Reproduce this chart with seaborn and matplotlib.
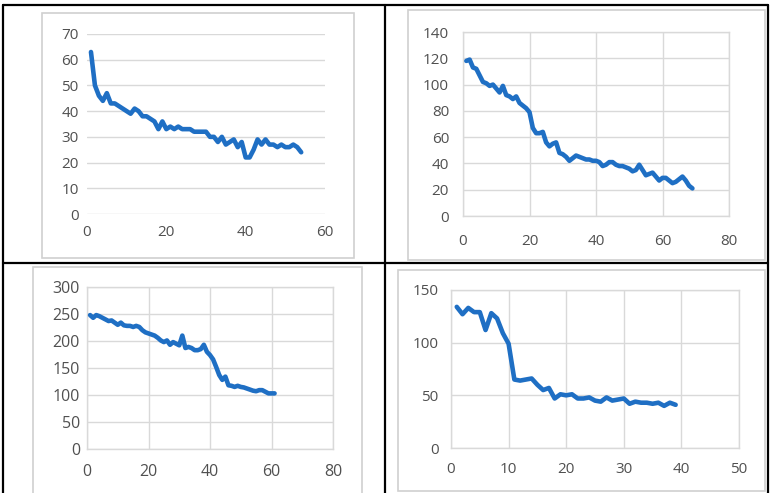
import matplotlib
matplotlib.use("Agg")
import matplotlib.pyplot as plt
import seaborn as sns
import pandas as pd
from matplotlib.patches import Rectangle
from matplotlib.lines import Line2D

sns.set_style("white")
plt.rcParams["font.family"] = ["Open Sans", "DejaVu Sans"]

# ---- data -------------------------------------------------------------
series_a = [63, 50, 46, 44, 47, 43, 43, 42, 41, 40, 39, 41, 40, 38, 38, 37, 36, 33,
            36, 33, 34, 33, 34, 33, 33, 33, 32, 32, 32, 32, 30, 30, 28, 30, 27, 28,
            29, 26, 28, 22, 22, 25, 29, 27, 29, 27, 27, 26, 27, 26, 26, 27, 26, 24]

series_b = [118, 119, 113, 112, 107, 102, 101, 99, 100, 97, 94, 99, 92, 91, 89, 91,
            86, 84, 82, 79, 67, 63, 63, 64, 56, 53, 55, 56, 48, 47, 45, 42, 44, 46,
            45, 44, 43, 43, 42, 42, 41, 38, 39, 41, 41, 39, 38, 38, 37, 36, 34, 35,
            39, 35, 31, 32, 33, 30, 27, 29, 29, 27, 25, 26, 28, 30, 27, 23, 21]

series_c = [248, 243, 248, 246, 243, 240, 237, 238, 234, 230, 234, 229, 228, 228,
            226, 228, 226, 220, 216, 214, 212, 210, 206, 201, 198, 201, 193, 198,
            195, 192, 210, 187, 189, 187, 183, 183, 185, 193, 180, 174, 166, 152,
            137, 128, 134, 118, 117, 115, 117, 115, 114, 112, 110, 108, 107, 109,
            109, 106, 103, 103, 103]

series_d = [134, 127, 133, 129, 129, 112, 128, 123, 109, 99, 65, 64, 65, 66, 60, 55,
            57, 47, 51, 50, 51, 47, 47, 48, 45, 44, 48, 45, 46, 47, 42, 44, 43, 43,
            42, 43, 40, 43, 41]

BLUE = "#1f6fc4"
GRID = "#d9d9d9"
TEXT = "#505050"
W, H = 770, 493

fig = plt.figure(figsize=(W / 100, H / 100), dpi=100)


def px_rect(x0, y0, x1, y1):
    return [x0 / W, 1 - y1 / H, (x1 - x0) / W, (y1 - y0) / H]


# light grey chart-area outlines
for x0, y0, x1, y1 in [(42, 13, 354, 258), (408, 10, 765, 260),
                       (33, 267, 362, 500), (398, 270, 765, 491)]:
    fig.patches.append(Rectangle((x0 / W, 1 - y1 / H), (x1 - x0) / W, (y1 - y0) / H,
                                 transform=fig.transFigure, fill=False,
                                 edgecolor="#d0d0d0", linewidth=1.2))

panels = [
    dict(values=series_a, rect=(87, 34, 325, 214), xmax=60, xstep=20, ymax=70, ystep=10,
         vgrid=False, box=False, size=11, ypad=6, xpad=8),
    dict(values=series_b, rect=(463, 32, 729, 216), xmax=80, xstep=20, ymax=140, ystep=20,
         vgrid=True, box=True, size=11, ypad=10, xpad=13),
    dict(values=series_c, rect=(87, 287, 333, 449), xmax=80, xstep=20, ymax=300, ystep=50,
         vgrid=True, box=True, size=11.5, ypad=5, xpad=11),
    dict(values=series_d, rect=(451, 290, 739, 448), xmax=50, xstep=10, ymax=150, ystep=50,
         vgrid=True, box=True, size=11, ypad=9, xpad=10),
]

for p in panels:
    ax = fig.add_axes(px_rect(*p["rect"]))
    df = pd.DataFrame({"x": range(1, len(p["values"]) + 1), "y": p["values"]})
    sns.lineplot(data=df, x="x", y="y", ax=ax, color=BLUE, linewidth=3.3,
                 solid_joinstyle="round", solid_capstyle="round", zorder=3)
    ax.set_xlim(0, p["xmax"])
    ax.set_ylim(0, p["ymax"])
    ax.set_xticks(range(0, p["xmax"] + 1, p["xstep"]))
    ax.set_yticks(range(0, p["ymax"] + 1, p["ystep"]))
    ax.set_xlabel("")
    ax.set_ylabel("")
    ax.set_facecolor("none")
    ax.tick_params(axis="both", length=0, labelsize=p["size"], colors=TEXT)
    ax.tick_params(axis="y", pad=p["ypad"])
    ax.tick_params(axis="x", pad=p["xpad"])
    ax.grid(True, axis="y", color=GRID, linewidth=1.0)
    if p["vgrid"]:
        ax.grid(True, axis="x", color=GRID, linewidth=1.0)
    ax.set_axisbelow(True)
    for s in ax.spines.values():
        s.set_visible(p["box"])
        s.set_color(GRID)
        s.set_linewidth(1.0)

# black frame dividing the four panels
frame = [((3, 5), (3, 493)), ((3, 5), (768, 5)), ((768, 5), (768, 493)),
         ((385, 5), (385, 493)), ((3, 263), (768, 263))]
for (xa, ya), (xb, yb) in frame:
    fig.add_artist(Line2D([xa / W, xb / W], [1 - ya / H, 1 - yb / H],
                          transform=fig.transFigure, color="black", linewidth=1.6))

fig.savefig("out.png", dpi=100)
